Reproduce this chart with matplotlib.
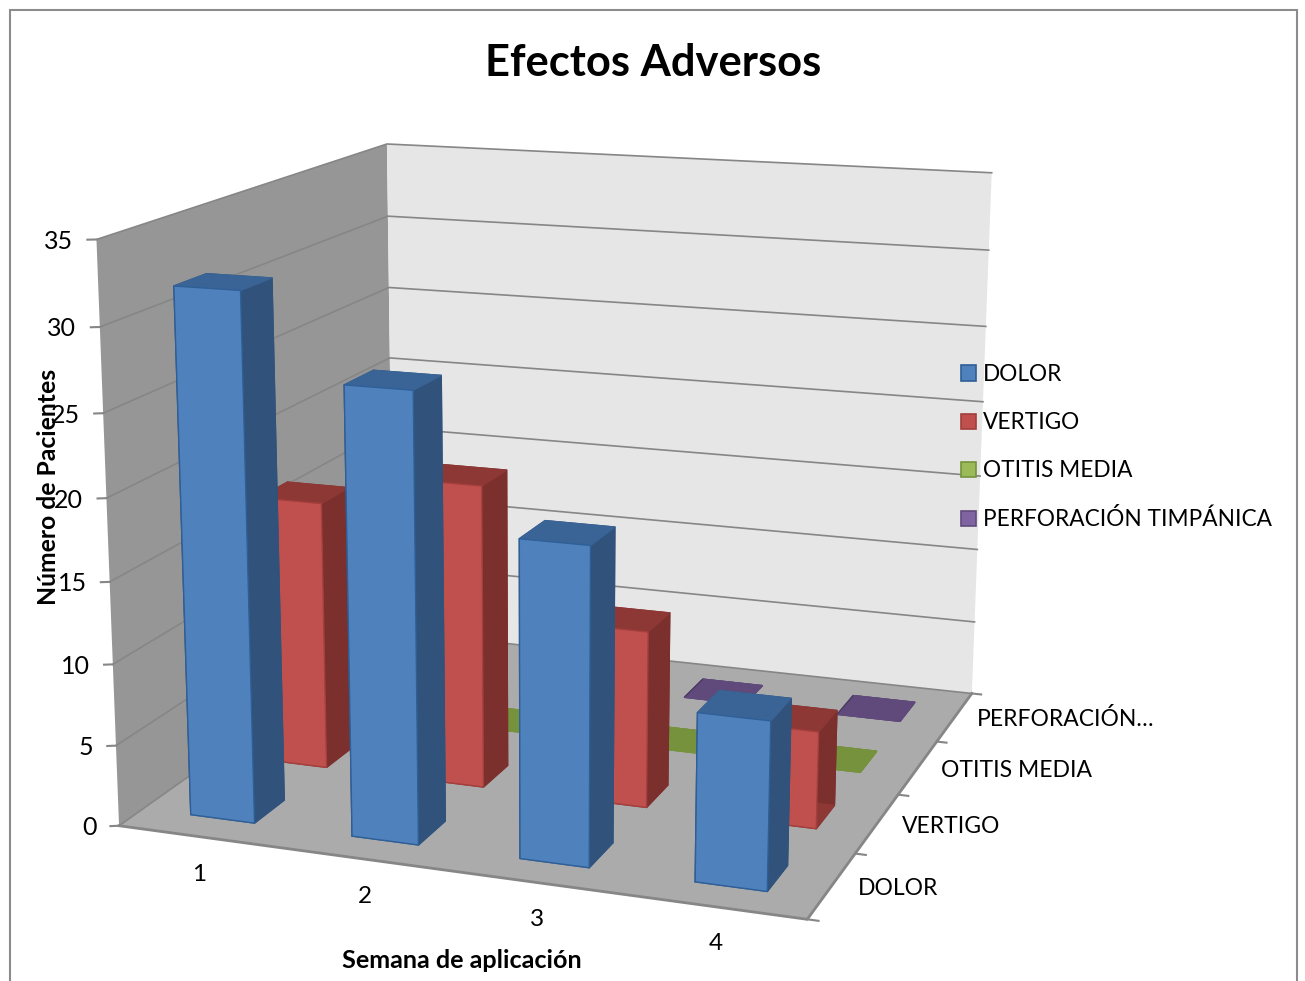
import numpy as np
import matplotlib
matplotlib.use("Agg")
import matplotlib.pyplot as plt
from matplotlib.patches import Patch, Rectangle
from mpl_toolkits.mplot3d.art3d import Poly3DCollection

plt.rcParams['font.family'] = ['Lato', 'DejaVu Sans']

weeks = ['1', '2', '3', '4']
series_names = ['DOLOR', 'VERTIGO', 'OTITIS MEDIA', 'PERFORACIÓN TIMPÁNICA']
depth_labels = ['DOLOR', 'VERTIGO', 'OTITIS MEDIA', 'PERFORACIÓN…']
dolor = [32, 27, 19, 10]
vertigo = [17, 19, 11, 6]
otitis = [0, 0, 0, 0]
perforacion = [0, 0, 0, 0]
z_ticks = [0, 5, 10, 15, 20, 25, 30, 35]

W, H = 1305, 981
BAR_W, BAR_D = 0.40, 0.40
XMAX, YMAX, ZMAX = 4, 4, 35

fig = plt.figure(figsize=(W/100, H/100), dpi=100, facecolor='white')
ax = fig.add_axes([0, 0, 1, 1], projection='3d', proj_type='ortho')
ax.set_axis_off()
ax.computed_zorder = False
ax.apply_aspect = lambda position=None: None

# camera calibration: reference points of the box -> picture pixels
calib = [
    ((0,0,0),(119,826)), ((0,0,5),(116,746)), ((0,0,10),(113,664)), ((0,0,15),(110,582)),
    ((0,0,20),(107,498)), ((0,0,25),(103,413)), ((0,0,30),(99,327)), ((0,0,35),(97,239)),
    ((0,4,35),(386,144)), ((0,4,30),(388,216)), ((0,4,25),(389,288)), ((0,4,20),(390,358)),
    ((4,4,35),(992,174)), ((4,4,30),(989,250)), ((4,4,25),(986,326)), ((4,4,15),(980,475)),
    ((4,4,5),(974,622)), ((4,4,0),(972,693)),
    ((4,0,0),(808,920)), ((4,1,0),(853,853)), ((4,2,0),(898,795)), ((4,3,0),(938,742)),
]
A, b = [], []
for (X,Y,Z),(u,v) in calib:
    A.append([X,Y,Z,1,0,0,0,0,-u*X,-u*Y,-u*Z]); b.append(u)
    A.append([0,0,0,0,X,Y,Z,1,-v*X,-v*Y,-v*Z]); b.append(v)
p = np.linalg.lstsq(np.array(A, float), np.array(b, float), rcond=None)[0]
P = np.append(p, 1).reshape(3, 4)
x0, x1 = ax.viewLim.intervalx; y0, y1 = ax.viewLim.intervaly
S = np.array([[(x1-x0)/W, 0, x0], [0, -(y1-y0)/H, y1], [0, 0, 1]])
Q = S @ P
M = np.vstack([Q[0], Q[1], 0.1*np.array([-0.1, 1, -0.01, 5]), Q[2]])
ax.get_proj = lambda: M

def quad(verts, color, z):
    ax.add_collection3d(Poly3DCollection([verts], facecolors=color, edgecolors='none', zorder=z))

quad([(0,0,0),(XMAX,0,0),(XMAX,YMAX,0),(0,YMAX,0)], '#ababab', 1)
quad([(0,0,0),(0,YMAX,0),(0,YMAX,ZMAX),(0,0,ZMAX)], '#969696', 1)
quad([(0,YMAX,0),(XMAX,YMAX,0),(XMAX,YMAX,ZMAX),(0,YMAX,ZMAX)], '#e6e6e6', 1)

GRID = '#868686'
for z in z_ticks:
    ax.plot([0,0,XMAX],[0,YMAX,YMAX],[z,z,z], color=GRID, lw=1.2, zorder=2)
    ax.plot([-0.043,0],[-0.022,0],[z,z], color=GRID, lw=1.5, zorder=2)
    ax.text(-0.113, -0.055, z-0.08, str(z), ha='right', va='center', fontsize=18, color='black')
ax.plot([0,XMAX,XMAX],[0,0,YMAX],[0,0,0], color=GRID, lw=2, zorder=2)
for i in range(YMAX+1):
    ax.plot([XMAX,XMAX+0.06],[i,i],[0,0], color=GRID, lw=1.5, zorder=2)
for i, t in enumerate(weeks):
    ax.text(i*0.965+0.755, -0.51+0.012*i, 0, t, ha='center', va='center', fontsize=17.5, color='black')
for i, t in enumerate(depth_labels):
    ax.text(XMAX+0.14, i+0.5, 0, t, ha='left', va='center', fontsize=16.5, color='black')

faces = [
    ('#4f81bd', '#3a6496', '#30527b', '#2f5f97'),
    ('#c0504d', '#8e3836', '#7b302e', '#a33f3c'),
    ('#9bbb59', '#76923c', '#5f7530', '#76923c'),
    ('#8064a2', '#604a7b', '#4e3c64', '#604a7b'),
]
series = [dolor, vertigo, otitis, perforacion]
zo = 10
for j in reversed(range(len(series))):
    front, top, side, edge = faces[j]
    for i, v in enumerate(series[j]):
        colors = [top, top, front, side, side, side]
        edges = [top, top, edge, side, side, side]
        ax.bar3d(i+0.5-BAR_W/2, j+0.5-BAR_D/2, 0, BAR_W, BAR_D, v, color=colors,
                 shade=False, edgecolor=edges, linewidth=1.0, zorder=zo)
        zo += 1

fig.text(653/W, 1-63/H, 'Efectos Adversos', ha='center', va='center', fontsize=31.3, fontweight='bold')
fig.text(49/W, 1-487/H, 'Número de Pacientes', rotation=90, ha='center', va='center', fontsize=17.8, fontweight='bold')
fig.text(462/W, 1-960/H, 'Semana de aplicación', ha='center', va='center', fontsize=18.1, fontweight='bold')

handles = [Patch(facecolor=f[0], edgecolor=f[3], linewidth=1.2) for f in faces]
fig.legend(handles, series_names, loc='upper left', bbox_to_anchor=(961/W, 1-364/H), frameon=False,
           fontsize=16.3, handlelength=0.66, handleheight=0.66, handletextpad=0.30, labelspacing=1.2,
           borderpad=0, borderaxespad=0)

fig.add_artist(Rectangle((9.5/W, -0.1), (1297-9.5)/W, 1.1-10.5/H, transform=fig.transFigure,
                         fill=False, edgecolor='#8c8c8c', lw=1.5))
fig.savefig('out.png', dpi=100)
